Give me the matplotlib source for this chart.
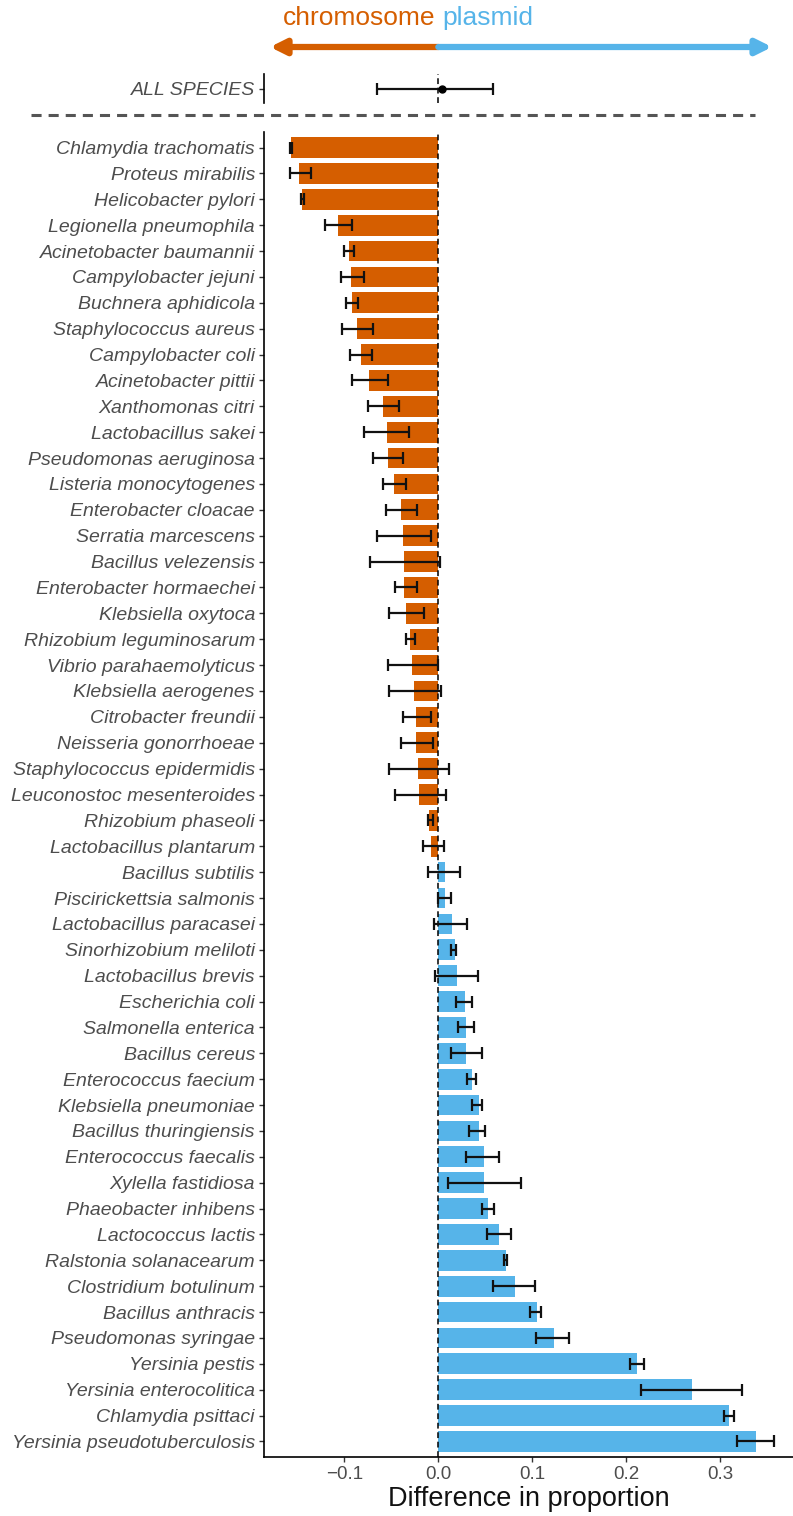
import matplotlib
matplotlib.use("Agg")
import matplotlib.pyplot as plt
from matplotlib.lines import Line2D
from matplotlib.transforms import blended_transform_factory
import numpy as np

plt.rcParams['font.family'] = ['Liberation Sans', 'DejaVu Sans']

species = [
    "Chlamydia trachomatis", "Proteus mirabilis", "Helicobacter pylori",
    "Legionella pneumophila", "Acinetobacter baumannii", "Campylobacter jejuni",
    "Buchnera aphidicola", "Staphylococcus aureus", "Campylobacter coli",
    "Acinetobacter pittii", "Xanthomonas citri", "Lactobacillus sakei",
    "Pseudomonas aeruginosa", "Listeria monocytogenes", "Enterobacter cloacae",
    "Serratia marcescens", "Bacillus velezensis", "Enterobacter hormaechei",
    "Klebsiella oxytoca", "Rhizobium leguminosarum", "Vibrio parahaemolyticus",
    "Klebsiella aerogenes", "Citrobacter freundii", "Neisseria gonorrhoeae",
    "Staphylococcus epidermidis", "Leuconostoc mesenteroides", "Rhizobium phaseoli",
    "Lactobacillus plantarum", "Bacillus subtilis", "Piscirickettsia salmonis",
    "Lactobacillus paracasei", "Sinorhizobium meliloti", "Lactobacillus brevis",
    "Escherichia coli", "Salmonella enterica", "Bacillus cereus",
    "Enterococcus faecium", "Klebsiella pneumoniae", "Bacillus thuringiensis",
    "Enterococcus faecalis", "Xylella fastidiosa", "Phaeobacter inhibens",
    "Lactococcus lactis", "Ralstonia solanacearum", "Clostridium botulinum",
    "Bacillus anthracis", "Pseudomonas syringae", "Yersinia pestis",
    "Yersinia enterocolitica", "Chlamydia psittaci", "Yersinia pseudotuberculosis",
]
diff = [
    -0.157, -0.148, -0.145, -0.107, -0.095, -0.093, -0.092, -0.086, -0.082,
    -0.074, -0.059, -0.055, -0.053, -0.047, -0.040, -0.038, -0.036, -0.036,
    -0.034, -0.030, -0.028, -0.026, -0.024, -0.024, -0.022, -0.020, -0.0096,
    -0.0074, 0.007, 0.007, 0.015, 0.018, 0.0195, 0.028, 0.0295, 0.030,
    0.036, 0.043, 0.043, 0.049, 0.049, 0.053, 0.065, 0.072, 0.082,
    0.105, 0.123, 0.211, 0.270, 0.309, 0.338,
]
lower = [
    -0.158, -0.158, -0.146, -0.121, -0.100, -0.104, -0.098, -0.102, -0.094,
    -0.092, -0.075, -0.079, -0.069, -0.059, -0.056, -0.065, -0.073, -0.046,
    -0.052, -0.034, -0.054, -0.052, -0.038, -0.040, -0.052, -0.046, -0.0106,
    -0.0166, -0.0106, 0.000, -0.005, 0.0135, -0.003, 0.0185, 0.0206, 0.014,
    0.031, 0.0355, 0.033, 0.029, 0.010, 0.047, 0.0515, 0.070, 0.058,
    0.098, 0.104, 0.204, 0.216, 0.304, 0.318,
]
upper = [
    -0.156, -0.135, -0.143, -0.092, -0.090, -0.079, -0.085, -0.069, -0.071,
    -0.054, -0.042, -0.031, -0.038, -0.034, -0.023, -0.008, 0.002, -0.023,
    -0.015, -0.025, 0.000, 0.003, -0.008, -0.006, 0.011, 0.008, -0.006,
    0.006, 0.023, 0.014, 0.031, 0.019, 0.042, 0.0355, 0.038, 0.046,
    0.040, 0.046, 0.050, 0.065, 0.088, 0.059, 0.077, 0.073, 0.1025,
    0.109, 0.139, 0.219, 0.323, 0.315, 0.357,
]
all_label = "ALL SPECIES"
all_mean = 0.004
all_lower = -0.065
all_upper = 0.0585

xticks = [-0.1, 0.0, 0.1, 0.2, 0.3]
xticklabels = ["\u22120.1", "0.0", "0.1", "0.2", "0.3"]

ORANGE = "#D55E00"
BLUE = "#56B4E9"
TXT = "#4D4D4D"

W, H = 793, 1516
fig = plt.figure(figsize=(W / 100, H / 100), dpi=100)

xlim = (-0.1854, 0.3773)
left = 264 / W
right = 1.0

# main panel
ax = fig.add_axes([left, 1 - 1457 / H, right - left, (1457 - 132) / H])
n = len(species)
y = np.arange(n)
d = np.array(diff)
lo = np.array(lower)
hi = np.array(upper)
colors = [ORANGE if v < 0 else BLUE for v in d]
ax.barh(y, d, height=0.8, color=colors, zorder=1)
ax.axvline(0, color="black", lw=1.1, linestyle=(0, (3.8, 2.4)), zorder=2)
ax.errorbar(d, y, xerr=[d - lo, hi - d], fmt="none", ecolor="#111111",
            elinewidth=1.6, capsize=4.5, capthick=1.6, zorder=3)
ax.set_ylim(n - 0.4, -0.6)
ax.set_xlim(*xlim)
ax.set_yticks(y)
ax.set_yticklabels(species, fontsize=14, style="italic", color=TXT)
ax.set_xticks(xticks)
ax.set_xticklabels(xticklabels, fontsize=13.5, color=TXT)
ax.set_xlabel("Difference in proportion", fontsize=19.5, color="#111111", labelpad=2)
for s in ["top", "right"]:
    ax.spines[s].set_visible(False)
for s in ["left", "bottom"]:
    ax.spines[s].set_linewidth(1.2)
ax.tick_params(axis="both", length=3.5, width=1.0, color="#333333", pad=3)

# ALL SPECIES panel
ax2 = fig.add_axes([left, 1 - 103 / H, right - left, (103 - 74) / H])
ax2.axvline(0, color="black", lw=1.1, linestyle=(0, (3.8, 2.4)), zorder=1)
ax2.errorbar([all_mean], [0], xerr=[[all_mean - all_lower], [all_upper - all_mean]],
             fmt="o", color="black", ms=5, ecolor="#111111", elinewidth=1.6,
             capsize=4.5, capthick=1.6, zorder=3)
ax2.set_xlim(*xlim)
ax2.set_ylim(-0.5, 0.5)
ax2.set_yticks([0])
ax2.set_yticklabels([all_label], fontsize=14, style="italic", color=TXT)
ax2.set_xticks([])
for s in ["top", "right", "bottom"]:
    ax2.spines[s].set_visible(False)
ax2.spines["left"].set_linewidth(1.2)
ax2.tick_params(axis="y", length=3.5, width=1.0, color="#333333", pad=3)

# dashed separator
fig.add_artist(Line2D([31 / W, 755 / W], [1 - 115 / H, 1 - 115 / H],
                      color="#555555", lw=2.2, linestyle=(0, (3.3, 2.3))))

# direction arrows
tr = blended_transform_factory(ax.transData, fig.transFigure)
arrow_y = 1 - 47 / H
ax.annotate("", xy=(-0.179, arrow_y), xytext=(0.0, arrow_y), xycoords=tr, textcoords=tr,
            arrowprops=dict(arrowstyle="-|>,head_length=0.9,head_width=0.45",
                            color=ORANGE, lw=4.5, shrinkA=0, shrinkB=0),
            annotation_clip=False)
ax.annotate("", xy=(0.355, arrow_y), xytext=(0.0, arrow_y), xycoords=tr, textcoords=tr,
            arrowprops=dict(arrowstyle="-|>,head_length=0.9,head_width=0.45",
                            color=BLUE, lw=4.5, shrinkA=0, shrinkB=0),
            annotation_clip=False)
ax.text(-0.003, 1 - 18 / H, "chromosome", transform=tr, ha="right", va="center",
        fontsize=19, color=ORANGE)
ax.text(0.004, 1 - 18 / H, "plasmid", transform=tr, ha="left", va="center",
        fontsize=19, color=BLUE)

fig.savefig("out.png", dpi=100)
